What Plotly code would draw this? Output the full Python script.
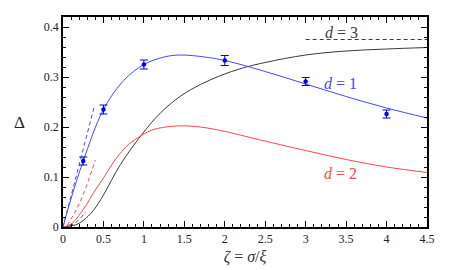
import plotly.graph_objects as go

# Data
zeta_pts = [0.25, 0.5, 1.0, 2.0, 3.0, 4.0]
delta_pts = [0.132, 0.235, 0.325, 0.333, 0.291, 0.226]
delta_err = [0.008, 0.009, 0.009, 0.010, 0.008, 0.008]

zeta_d1 = [0, 0.1, 0.25, 0.5, 0.75, 1.0, 1.25, 1.45, 1.75, 2.0, 2.5, 3.0, 3.5, 4.0, 4.5]
delta_d1 = [0, 0.057, 0.132, 0.235, 0.293, 0.325, 0.340, 0.344, 0.340, 0.333, 0.311, 0.286, 0.261, 0.238, 0.218]

zeta_d2 = [0, 0.1, 0.25, 0.4, 0.5, 0.61, 0.7, 0.81, 0.98, 1.1, 1.23, 1.4, 1.55, 1.7, 1.95, 2.44, 3.0, 3.5, 4.0, 4.5]
delta_d2 = [0, 0.006, 0.035, 0.074, 0.098, 0.126, 0.146, 0.165, 0.184, 0.194, 0.199, 0.202, 0.202, 0.200, 0.193, 0.174, 0.153, 0.135, 0.120, 0.109]

zeta_d3 = [0, 0.15, 0.25, 0.375, 0.5, 0.71, 0.98, 1.21, 1.455, 1.7, 1.95, 2.22, 2.5, 3.0, 3.5, 4.0, 4.5]
delta_d3 = [0, 0.004, 0.013, 0.033, 0.064, 0.125, 0.186, 0.229, 0.262, 0.285, 0.303, 0.318, 0.329, 0.344, 0.352, 0.356, 0.359]

# small-zeta asymptotes and large-zeta limit (dashed)
zeta_a1 = [0, 0.39]
delta_a1 = [0, 0.243]
zeta_a2 = [0.05, 0.15, 0.25, 0.4]
delta_a2 = [0.003, 0.030, 0.065, 0.134]
zeta_a3 = [0.08, 0.18, 0.28]
delta_a3 = [0.002, 0.012, 0.030]
zeta_lim3 = [3.0, 4.5]
delta_lim3 = [0.375, 0.375]

BLUE = "#4646ff"
RED = "#ff4646"
BLACK = "#3a3a3a"
FONT = "Times New Roman, Liberation Serif, serif"

fig = go.Figure()
sm = 1.0
fig.add_trace(go.Scatter(x=zeta_d3, y=delta_d3, mode="lines", line=dict(color=BLACK, width=1, shape="spline", smoothing=sm)))
fig.add_trace(go.Scatter(x=zeta_d2, y=delta_d2, mode="lines", line=dict(color=RED, width=1, shape="spline", smoothing=sm)))
fig.add_trace(go.Scatter(x=zeta_d1, y=delta_d1, mode="lines", line=dict(color=BLUE, width=1, shape="spline", smoothing=sm)))
fig.add_trace(go.Scatter(x=zeta_a1, y=delta_a1, mode="lines", line=dict(color=BLUE, width=1, dash="4px,3px")))
fig.add_trace(go.Scatter(x=zeta_a2, y=delta_a2, mode="lines", line=dict(color=RED, width=1, dash="4px,3px", shape="spline")))
fig.add_trace(go.Scatter(x=zeta_a3, y=delta_a3, mode="lines", line=dict(color=BLACK, width=1, dash="4px,3px", shape="spline")))
fig.add_trace(go.Scatter(x=zeta_lim3, y=delta_lim3, mode="lines", line=dict(color=BLACK, width=1, dash="4px,3px")))
fig.add_trace(go.Scatter(
    x=zeta_pts, y=delta_pts, mode="markers",
    marker=dict(color="#0000ee", size=4.5),
    error_y=dict(type="data", array=delta_err, color="#0000ee", thickness=1, width=4),
))

for txt, x, y, c in [("<i>d</i> = 1", 3.43, 0.288, BLUE), ("<i>d</i> = 2", 3.43, 0.107, RED), ("<i>d</i> = 3", 3.44, 0.389, BLACK)]:
    fig.add_annotation(x=x, y=y, text=txt, showarrow=False, font=dict(family=FONT, size=16, color=c))

axis_common = dict(
    showgrid=False, zeroline=False, showline=True, linecolor="black", linewidth=1.5,
    mirror="allticks", ticks="inside", ticklen=6, tickwidth=1, tickcolor="black",
    tickfont=dict(family=FONT, size=12, color="#222"),
)
fig.update_xaxes(range=[0, 4.5], dtick=0.5, tick0=0,
                 minor=dict(ticks="inside", dtick=0.1, ticklen=3, tickcolor="black"),
                 title=dict(text="<i>ζ</i> = <i>σ</i>/<i>ξ</i>", font=dict(family=FONT, size=16, color="#333"), standoff=6),
                 **axis_common)
fig.update_yaxes(range=[0, 0.42], dtick=0.1, tick0=0,
                 minor=dict(ticks="inside", dtick=0.02, ticklen=3, tickcolor="black"),
                 **axis_common)
fig.add_annotation(xref="paper", yref="paper", x=(11.5 - 63) / 364, y=(228.3 - 122) / 213,
                   text="Δ", showarrow=False, font=dict(family=FONT, size=17, color="#222"))

# the page body has an 8px margin, so the figure is sized to fit the 449x270 window
fig.update_layout(
    width=441, height=262,
    margin=dict(l=55, r=22, t=7, b=42),
    paper_bgcolor="white", plot_bgcolor="white",
    showlegend=False,
)
fig.write_html("out.html")
